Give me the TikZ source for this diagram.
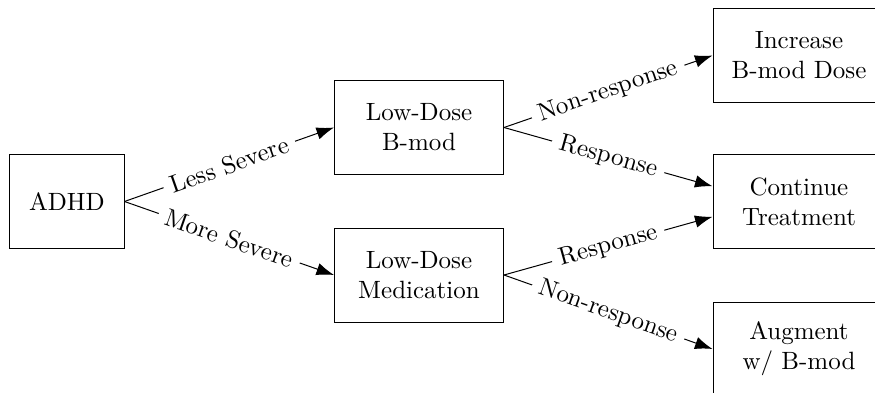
\documentclass[tikz,border=0pt]{standalone}
\usetikzlibrary{arrows.meta,positioning}

\begin{document}
\begin{tikzpicture}[x=0.4pt,y=-0.4pt,
    box/.style={draw,align=center,minimum height=37.6pt,inner sep=2pt},
    lbl/.style={midway,sloped,fill=white,inner xsep=3pt,inner ysep=0.5pt},
    >={Latex[length=7pt,width=5pt]}]
  \useasboundingbox (0,0) rectangle (875,393);
  \clip (0,0) rectangle (875,393);
  \node[box,minimum width=45.6pt] (adhd) at (67,201.5) {ADHD};
  \node[box,minimum width=67.6pt] (bmod) at (419,127.5) {Low-Dose\\B-mod};
  \node[box,minimum width=67.6pt] (med) at (419,275) {Low-Dose\\Medication};
  \node[box,minimum width=68.8pt] (incr) at (799,55.5) {Increase\\B-mod Dose};
  \node[box,minimum width=68.8pt] (cont) at (799,201.5) {Continue\\Treatment};
  \node[box,minimum width=68.8pt] (augm) at (799,349) {Augment\\w/ B-mod};
  \draw[->] (adhd.east) -- (bmod.west) node[lbl] {Less Severe};
  \draw[->] (adhd.east) -- (med.west) node[lbl] {More Severe};
  \draw[->] (bmod.east) -- (incr.west) node[lbl] {Non-response};
  \draw[->] (bmod.east) -- (cont.170) node[lbl] {Response};
  \draw[->] (med.east) -- (cont.190) node[lbl] {Response};
  \draw[->] (med.east) -- (augm.west) node[lbl] {Non-response};
\end{tikzpicture}
\end{document}
